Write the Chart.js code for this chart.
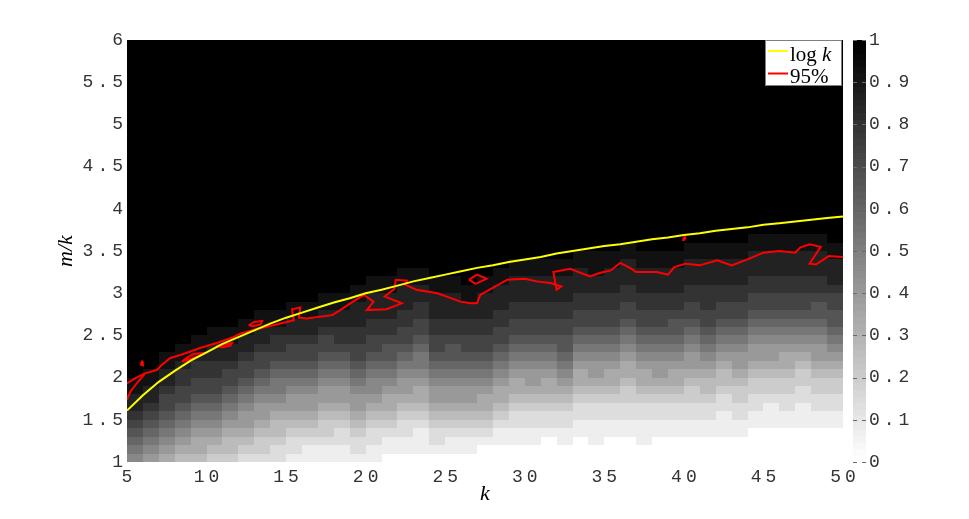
<!DOCTYPE html>
<html>
<head>
<meta charset="utf-8">
<title>m/k vs k</title>
<script src="https://cdn.jsdelivr.net/npm/chart.js@4.4.1/dist/chart.umd.min.js"></script>
<style>
  html, body { margin: 0; padding: 0; background: #fff; }
  #wrap { width: 969px; height: 519px; }
</style>
</head>
<body>
<div id="wrap"><canvas id="chart" width="969" height="519"></canvas></div>
<script>
// Cell edges of the probability grid (k columns, m/k rows)
const kEdges = [5, 6, 7, 8, 9, 10, 11, 12, 13, 14, 15, 16, 17, 18, 19, 20, 21, 22, 23, 24, 25, 26, 27, 28, 29, 30,
    31, 32, 33, 34, 35, 36, 37, 38, 39, 40, 41, 42, 43, 44, 45, 46, 47, 48, 49, 50];
const mkEdges = [1.0, 1.1, 1.2, 1.3, 1.4, 1.5, 1.6, 1.7, 1.8, 1.9, 2.0, 2.1, 2.2, 2.3, 2.4, 2.5, 2.6, 2.7, 2.8, 2.9,
    3.0, 3.1, 3.2, 3.3, 3.4, 3.5, 3.6, 3.7, 3.8, 3.9, 4.0];

// One string per k column, one hex digit per m/k row from the bottom (0 = 0, f = 1).
// Rows above the end of a string are saturated (value 1).
const shadeCols = [
    '789abcddee',                       // k = 5
    '6789abcddee',
    '56789abbcddee',
    '456789abbccdee',
    '4556789abbccdee',
    '3456789abbccddee',                 // k = 10
    '34456789abbcddee',
    '234566789abbcddee',
    '2334566789abbcddee',
    '22344567889abccdee',
    '12234566789abbcddee',              // k = 15
    '11234566789abbcddee',
    '112334566789abbcddee',
    '112234566789abccddee',
    '12234566789abbccdddee',
    '112234567789abbccdddee',           // k = 20
    '011234556789aabccdddee',
    '0112234566789abbccdddee',
    '01112345567889abbccddee',
    '012234566789abbccdddee',
    '011234566789aabccdddee',           // k = 25
    '011234566789abbccddee',
    '001234556789abbccdddee',
    '0011234556789abbccdddee',
    '00112234556789abbccdddee',
    '00112234566789abbccdddee',         // k = 30
    '00012234556789abbccdddee',
    '0011223456789aabbccdddee',
    '000112234556789abbccdddee',
    '001112234566789abbccddeee',
    '000112234556789abbccdddee',        // k = 35
    '0001122334556789abbccdddee',
    '001112234556789abbccdddee',
    '000112234566789abbccdddee',
    '000112234556789aabccdddee',
    '0001122334566789abbccdddee',       // k = 40
    '000112234456789abbcccdddee',
    '0001112234456789abbccdddee',
    '0001122334566789abbccdddee',
    '00001122334566789abbccdddee',
    '00001112334566789abbccdddee',      // k = 45
    '00001122334556789abbccdddee',
    '00001112233456789abbccdddee',
    '00001122334566789aabccdddee',
    '0000112233456789aabbcdddee'        // k = 49
];

// Yellow curve, one value per entry of kEdges
const logKValues = [1.61, 1.79, 1.95, 2.08, 2.20, 2.30, 2.40, 2.48, 2.56, 2.64, 2.71, 2.77, 2.83, 2.89, 2.94,
    3.00, 3.04, 3.09, 3.14, 3.18, 3.22, 3.26, 3.30, 3.33, 3.37, 3.40, 3.43, 3.47, 3.50, 3.53, 3.56, 3.58,
    3.61, 3.64, 3.66, 3.69, 3.71, 3.74, 3.76, 3.78, 3.81, 3.83, 3.85, 3.87, 3.89, 3.91];

// 95% contour pieces as [k, m/k]
const contourMain = [
    [5.0, 1.93], [5.5, 1.99], [6.13, 2.05], [6.87, 2.09], [7.18, 2.15], [7.7, 2.23], [8.54, 2.28],
    [9.59, 2.35], [10.64, 2.41], [11.68, 2.48], [12.1, 2.52], [13.2, 2.58], [14.2, 2.62], [15.48, 2.68],
    [15.37, 2.81], [15.9, 2.83], [15.8, 2.71], [16.3, 2.70], [17.9, 2.74], [18.4, 2.80], [19.2, 2.90],
    [19.9, 2.98], [20.5, 2.90], [20.07, 2.80], [21.3, 2.81], [22.27, 2.88], [21.2, 2.96], [21.8, 3.05],
    [21.9, 3.16], [22.6, 3.15], [22.5, 3.10], [23.2, 3.04], [24.5, 3.00], [25.1, 2.96], [25.96, 2.90],
    [26.6, 2.88], [27.0, 2.88], [27.2, 2.98], [28.9, 3.16], [30.0, 3.17], [30.75, 3.14], [31.6, 3.12],
    [32.3, 3.08], [32.0, 3.04], [31.8, 3.25], [32.85, 3.29], [34.1, 3.20], [34.7, 3.24], [35.4, 3.27],
    [36.0, 3.36], [36.7, 3.29], [37.0, 3.25], [38.3, 3.25], [39.0, 3.22], [39.4, 3.31], [40.1, 3.35],
    [41.0, 3.33], [42.1, 3.39], [43.0, 3.33], [44.0, 3.40], [45.0, 3.48], [46.0, 3.50], [47.0, 3.48],
    [47.3, 3.54], [47.9, 3.58], [48.6, 3.55], [47.9, 3.35], [48.3, 3.34], [49.1, 3.44], [50.0, 3.43]
];
const contourEdge = [[5.0, 1.74], [5.2, 1.83], [5.6, 1.93], [6.1, 2.04]];
const contourIslands = [
    [[5.85, 2.16], [5.95, 2.19], [6.0, 2.17], [5.9, 2.15], [5.85, 2.16]],
    [[8.45, 2.19], [8.8, 2.24], [9.2, 2.28], [9.8, 2.29], [9.6, 2.26], [9.1, 2.23], [8.45, 2.19]],
    [[10.6, 2.37], [11.0, 2.39], [11.6, 2.41], [11.5, 2.38], [11.0, 2.36], [10.6, 2.37]],
    [[12.65, 2.62], [13.0, 2.66], [13.5, 2.67], [13.4, 2.63], [12.9, 2.61], [12.65, 2.62]],
    [[26.5, 3.16], [27.0, 3.22], [27.6, 3.17], [26.9, 3.11], [26.5, 3.16]],
    [[39.95, 3.64], [40.05, 3.67], [40.1, 3.65], [40.0, 3.63], [39.95, 3.64]]
];

// Ticks
const xTickValues = [5, 10, 15, 20, 25, 30, 35, 40, 45, 50];
const xTickLabels = ['5', '10', '15', '20', '25', '30', '35', '40', '45', '50'];
const yTickValues = [1, 1.5, 2, 2.5, 3, 3.5, 4, 4.5, 5, 5.5, 6];
const yTickLabels = ['1', '1.5', '2', '2.5', '3', '3.5', '4', '4.5', '5', '5.5', '6'];
const cbTickValues = [0, 0.1, 0.2, 0.3, 0.4, 0.5, 0.6, 0.7, 0.8, 0.9, 1];
const cbTickLabels = ['0', '0.1', '0.2', '0.3', '0.4', '0.5', '0.6', '0.7', '0.8', '0.9', '1'];

const tickFont = { family: 'Liberation Mono', size: 18 };
const titleFont = { family: 'Liberation Serif', size: 22, style: 'italic' };
const RED = '#ff0000';

function toPoints(pairs) {
    return pairs.map(p => ({ x: p[0], y: p[1] }));
}

function grayOf(v) {
    const g = Math.round(255 * (1 - v));
    return `rgb(${g},${g},${g})`;
}

/**
 * Draws the probability grid behind the lines
 */
const heatmapPlugin = {
    id: 'heatmap',
    beforeDatasetsDraw(chart) {
        const { ctx, chartArea: a, scales: { x, y } } = chart;
        ctx.save();
        ctx.beginPath();
        ctx.rect(a.left, a.top, a.width, a.height);
        ctx.clip();
        // saturated part of the grid
        ctx.fillStyle = '#000';
        ctx.fillRect(a.left, a.top, a.width, a.height);

        shadeCols.forEach((col, c) => {
            const x0 = Math.round(x.getPixelForValue(kEdges[c]));
            const x1 = Math.round(x.getPixelForValue(kEdges[c + 1]));
            for (let r = 0; r < col.length; r++) {
                const yTop = Math.round(y.getPixelForValue(mkEdges[r + 1]));
                const yBot = Math.round(y.getPixelForValue(mkEdges[r]));
                ctx.fillStyle = grayOf(parseInt(col[r], 16) / 15);
                ctx.fillRect(x0, yTop, x1 - x0, yBot - yTop);
            }
        });
        ctx.restore();
    }
};

/**
 * Draws the gray colour bar next to the plot, on the cb scale
 */
const colorbarPlugin = {
    id: 'colorbar',
    beforeDatasetsDraw(chart) {
        const { ctx, chartArea: a, scales: { cb } } = chart;
        const left = a.right + 10;
        const w = 13;
        const levels = 64;
        ctx.save();
        for (let i = 0; i < levels; i++) {
            const yb = cb.getPixelForValue(i / levels);
            const yt = cb.getPixelForValue((i + 1) / levels);
            ctx.fillStyle = grayOf(i / (levels - 1));
            ctx.fillRect(left, Math.floor(yt), w, Math.ceil(yb) - Math.floor(yt));
        }
        ctx.strokeStyle = '#6a6a6a';
        ctx.lineWidth = 1;
        ctx.beginPath();
        cbTickValues.forEach(v => {
            const py = Math.round(cb.getPixelForValue(v)) + 0.5;
            ctx.moveTo(left, py);
            ctx.lineTo(left + 4, py);
            ctx.moveTo(left + w - 4, py);
            ctx.lineTo(left + w, py);
        });
        ctx.stroke();
        ctx.restore();
    }
};

/**
 * Legend box in the top right corner, and letter spacing for the tick labels drawn afterwards
 */
const legendPlugin = {
    id: 'boxLegend',
    afterDatasetsDraw(chart) {
        const { ctx, chartArea: a } = chart;
        const w = 77, h = 46;
        const bx = a.right - w - 1;
        const by = a.top;
        const items = [
            { color: '#ffff00', parts: [['log ', 'normal'], ['k', 'italic']] },
            { color: RED, parts: [['95%', 'normal']] }
        ];
        ctx.save();
        ctx.fillStyle = '#fff';
        ctx.fillRect(bx, by, w, h);
        ctx.strokeStyle = '#7f7f7f';
        ctx.lineWidth = 1;
        ctx.strokeRect(bx + 0.5, by + 0.5, w - 1, h - 1);
        items.forEach((item, i) => {
            const ly = by + 11 + i * 22.5;
            ctx.strokeStyle = item.color;
            ctx.lineWidth = 2;
            ctx.beginPath();
            ctx.moveTo(bx + 3, ly);
            ctx.lineTo(bx + 23, ly);
            ctx.stroke();
            let tx = bx + 25;
            ctx.fillStyle = '#000';
            ctx.textBaseline = 'alphabetic';
            item.parts.forEach(([text, style]) => {
                ctx.font = `${style} 21px "Liberation Serif"`;
                ctx.fillText(text, tx, ly + 9.5);
                tx += ctx.measureText(text).width;
            });
        });
        ctx.restore();
        // the tick labels (z: 1) are drawn after this hook
        ctx.letterSpacing = '4px';
    },
    afterDraw(chart) {
        chart.ctx.letterSpacing = '0px';
    }
};

const datasets = [
    {
        label: 'log k',
        data: kEdges.map((k, i) => ({ x: k, y: logKValues[i] })),
        borderColor: '#ffff00',
        borderWidth: 2
    },
    { label: '95%', data: toPoints(contourMain), borderColor: RED, borderWidth: 2 },
    { label: '95%', data: toPoints(contourEdge), borderColor: RED, borderWidth: 2 }
].concat(contourIslands.map(loop => ({
    label: '95%', data: toPoints(loop), borderColor: RED, borderWidth: 2
})));

datasets.forEach(ds => {
    ds.showLine = true;
    ds.pointRadius = 0;
    ds.fill = false;
});

function fixedTicks(values) {
    return function(scale) {
        scale.ticks = values.map(v => ({ value: v }));
    };
}

new Chart(document.getElementById('chart'), {
    type: 'scatter',
    data: { datasets: datasets },
    options: {
        responsive: false,
        animation: false,
        events: [],
        layout: { padding: { top: 40, left: 0, right: 0, bottom: 0 } },
        plugins: {
            legend: { display: false },
            tooltip: { enabled: false }
        },
        scales: {
            x: {
                type: 'linear',
                position: 'bottom',
                min: 5,
                max: 50,
                afterBuildTicks: fixedTicks(xTickValues),
                afterFit: scale => { scale.height = 57; },
                grid: { display: false, drawTicks: false },
                border: { display: false },
                ticks: {
                    z: 1,
                    font: tickFont,
                    color: '#333',
                    padding: 4,
                    labelOffset: 2,
                    autoSkip: false,
                    maxRotation: 0,
                    callback: (v, i) => xTickLabels[i]
                },
                title: { display: true, text: 'k', font: titleFont, color: '#000', padding: { top: 0, bottom: 12 } }
            },
            y: {
                type: 'linear',
                position: 'left',
                min: 1,
                max: 6,
                afterBuildTicks: fixedTicks(yTickValues),
                afterFit: scale => { scale.width = 127; },
                grid: { display: false, drawTicks: false },
                border: { display: false },
                ticks: {
                    z: 1,
                    font: tickFont,
                    color: '#333',
                    padding: 0,
                    autoSkip: false,
                    callback: (v, i) => yTickLabels[i]
                },
                title: { display: true, text: 'm/k', font: titleFont, color: '#000', padding: { top: 53, bottom: 0 } }
            },
            cb: {
                type: 'linear',
                position: 'right',
                min: 0,
                max: 1,
                afterBuildTicks: fixedTicks(cbTickValues),
                afterFit: scale => { scale.width = 126; },
                grid: { display: false, drawTicks: false },
                border: { display: false },
                ticks: {
                    z: 1,
                    font: tickFont,
                    color: '#333',
                    padding: 26,
                    autoSkip: false,
                    callback: (v, i) => cbTickLabels[i]
                }
            }
        }
    },
    plugins: [heatmapPlugin, colorbarPlugin, legendPlugin]
});
</script>
</body>
</html>
